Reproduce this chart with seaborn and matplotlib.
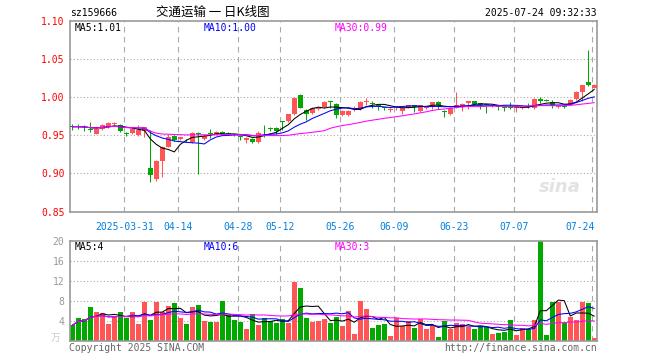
import numpy as np
import pandas as pd
import matplotlib
matplotlib.use("Agg")
import matplotlib.pyplot as plt
import seaborn as sns

# trading calendar (weekdays minus exchange holidays)
start_date = "2025-03-18"
end_date = "2025-07-24"
holidays = ["2025-04-04", "2025-05-01", "2025-05-02", "2025-05-05", "2025-06-02"]
tick_dates = ["2025-03-31", "2025-04-14", "2025-04-28", "2025-05-12", "2025-05-26",
              "2025-06-09", "2025-06-23", "2025-07-07", "2025-07-24"]
tick_labels = ["2025-03-31", "04-14", "04-28", "05-12", "05-26", "06-09", "06-23", "07-07", "07-24"]

open_p = [0.962, 0.962, 0.961, 0.958, 0.952, 0.958, 0.960, 0.965, 0.963, 0.953,
          0.953, 0.950, 0.956, 0.907, 0.892, 0.916, 0.935, 0.949, 0.945, 0.944,
          0.941, 0.953, 0.945, 0.952, 0.951, 0.954, 0.953, 0.951, 0.948, 0.943,
          0.945, 0.941, 0.961, 0.959, 0.959, 0.968, 0.968, 0.977, 1.003, 0.983,
          0.979, 0.984, 0.987, 0.994, 0.991, 0.976, 0.976, 0.984, 0.984, 0.993,
          0.992, 0.989, 0.986, 0.983, 0.985, 0.981, 0.986, 0.989, 0.981, 0.986,
          0.989, 0.993, 0.981, 0.977, 0.986, 0.988, 0.992, 0.994, 0.992, 0.990,
          0.988, 0.988, 0.987, 0.987, 0.986, 0.985, 0.988, 0.985, 0.997, 0.996,
          0.993, 0.987, 0.988, 0.990, 0.997, 1.007, 1.020, 1.012]
close_p = [0.961, 0.961, 0.960, 0.957, 0.958, 0.963, 0.966, 0.966, 0.955, 0.952,
           0.958, 0.957, 0.960, 0.898, 0.916, 0.934, 0.948, 0.944, 0.947, 0.943,
           0.953, 0.952, 0.949, 0.951, 0.954, 0.952, 0.951, 0.950, 0.947, 0.946,
           0.941, 0.953, 0.960, 0.958, 0.956, 0.967, 0.977, 0.999, 0.986, 0.977,
           0.985, 0.986, 0.993, 0.993, 0.976, 0.982, 0.982, 0.985, 0.993, 0.994,
           0.991, 0.988, 0.985, 0.984, 0.986, 0.986, 0.989, 0.987, 0.989, 0.987,
           0.993, 0.990, 0.980, 0.986, 0.989, 0.991, 0.994, 0.991, 0.989, 0.989,
           0.989, 0.987, 0.986, 0.986, 0.987, 0.986, 0.987, 0.997, 0.994, 0.995,
           0.988, 0.988, 0.987, 0.996, 1.007, 1.015, 1.015, 1.016]
high_p = [0.964, 0.964, 0.963, 0.967, 0.959, 0.964, 0.967, 0.967, 0.964, 0.954,
          0.959, 0.963, 0.961, 0.957, 0.918, 0.936, 0.951, 0.950, 0.948, 0.945,
          0.954, 0.954, 0.950, 0.958, 0.955, 0.956, 0.954, 0.952, 0.949, 0.948,
          0.946, 0.955, 0.963, 0.960, 0.960, 0.968, 0.978, 1.000, 1.004, 0.984,
          0.987, 0.987, 0.994, 0.994, 0.992, 0.983, 0.983, 0.988, 0.994, 0.998,
          0.994, 0.989, 0.987, 0.986, 0.987, 0.986, 0.990, 0.989, 0.990, 0.988,
          0.993, 0.994, 0.983, 0.987, 1.007, 0.992, 0.994, 0.994, 0.992, 0.990,
          0.990, 0.988, 0.987, 0.993, 0.988, 0.987, 0.992, 0.998, 1.000, 0.997,
          0.996, 0.989, 0.988, 0.997, 1.008, 1.015, 1.062, 1.017]
low_p = [0.957, 0.958, 0.955, 0.954, 0.951, 0.957, 0.959, 0.963, 0.954, 0.949,
         0.952, 0.949, 0.948, 0.888, 0.890, 0.895, 0.934, 0.942, 0.944, 0.941,
         0.940, 0.899, 0.944, 0.946, 0.950, 0.950, 0.950, 0.949, 0.944, 0.940,
         0.940, 0.940, 0.948, 0.956, 0.951, 0.957, 0.967, 0.976, 0.985, 0.970,
         0.978, 0.983, 0.986, 0.986, 0.973, 0.975, 0.975, 0.981, 0.983, 0.990,
         0.986, 0.983, 0.983, 0.980, 0.983, 0.977, 0.985, 0.980, 0.980, 0.984,
         0.984, 0.984, 0.974, 0.976, 0.985, 0.981, 0.984, 0.990, 0.984, 0.979,
         0.987, 0.983, 0.982, 0.984, 0.980, 0.984, 0.985, 0.984, 0.992, 0.994,
         0.986, 0.986, 0.985, 0.989, 0.996, 0.994, 1.014, 1.011]
# volume in 万手
volume = [3.1, 4.6, 4.3, 6.7, 5.8, 5.6, 3.3, 4.9, 5.7, 4.5,
          5.7, 3.3, 7.7, 4.1, 7.7, 5.8, 6.9, 7.5, 4.5, 3.3,
          6.7, 7.1, 4.0, 3.7, 3.7, 8.0, 5.1, 4.1, 3.8, 2.3,
          5.3, 3.1, 4.5, 4.0, 3.5, 4.3, 3.6, 11.8, 10.5, 4.5,
          3.8, 4.0, 4.3, 3.6, 4.8, 2.9, 5.9, 1.3, 8.0, 6.3,
          2.6, 3.1, 3.3, 0.9, 4.5, 2.9, 3.9, 2.6, 4.3, 2.3,
          3.2, 0.8, 4.0, 2.4, 3.6, 3.3, 2.8, 2.3, 2.9, 2.8,
          1.3, 1.6, 1.8, 4.1, 1.1, 2.5, 2.3, 4.1, 20.0, 1.1,
          7.7, 7.7, 3.5, 4.7, 4.1, 7.7, 7.5, 0.5]

RED = "#ff5555"
GREEN = "#00a800"
GRID = "#aaaaaa"
MONO = "DejaVu Sans Mono"

sns.set_style("white")
plt.rcParams['font.family'] = ['Noto Sans CJK SC', 'DejaVu Sans']

dates = pd.bdate_range(start_date, end_date)
dates = dates[~dates.isin(pd.to_datetime(holidays))]
df = pd.DataFrame({'date': dates, 'open': open_p, 'high': high_p, 'low': low_p,
                   'close': close_p, 'vol': volume})
df['i'] = np.arange(len(df))
df['up'] = df['close'] >= df['open']
df['color'] = np.where(df['up'], RED, GREEN)
for n in (5, 10, 30):
    df[f'ma{n}'] = df['close'].rolling(n, min_periods=1).mean()
    df[f'vma{n}'] = df['vol'].rolling(n, min_periods=1).mean()

tick_pos = [int(df.index[df['date'] == pd.Timestamp(d)][0]) - 0.33 for d in tick_dates]

W, H = 660, 360
fig = plt.figure(figsize=(6.6, 3.6), dpi=100)
L, R = 70, 597
ax = fig.add_axes([L / W, 1 - 211.5 / H, (R - L) / W, 191 / H])
axv = fig.add_axes([L / W, 1 - 340.7 / H, (R - L) / W, 100 / H])

xlim = ((L - 72.3) / 6, (R - 72.3) / 6)
MA_LW = 0.75

def frame(a):
    a.set_xlim(*xlim)
    for s in a.spines.values():
        s.set_color("#999999")
        s.set_linewidth(1.2)
    for x in tick_pos:
        a.axvline(x, color=GRID, lw=0.8, ls=(0, (5, 4)), zorder=0)
    a.set_xticks([])
    a.tick_params(length=0)

# price panel
frame(ax)
ax.set_ylim(0.85, 1.10)
for y in [0.90, 0.95, 1.00, 1.05]:
    ax.axhline(y, color=GRID, lw=0.8, ls=(0, (1, 2)), zorder=0)
ax.vlines(df['i'], df['low'], df['high'], colors=df['color'], lw=0.75, zorder=2)
body = (df['close'] - df['open']).abs().clip(lower=0.0012)
ax.bar(df['i'], body, bottom=df[['open', 'close']].min(axis=1), width=0.8,
       color=df['color'], linewidth=0, zorder=3)
sns.lineplot(data=df, x='i', y='ma5', color='black', lw=MA_LW, ax=ax, zorder=4)
sns.lineplot(data=df, x='i', y='ma10', color='#0000ff', lw=MA_LW, ax=ax, zorder=4)
sns.lineplot(data=df, x='i', y='ma30', color='#ff00ff', lw=MA_LW, ax=ax, zorder=4)
ax.set_xlabel('')
ax.set_ylabel('')
ax.set_yticks([0.85, 0.90, 0.95, 1.00, 1.05, 1.10])
ax.set_yticklabels([f"{v:.2f}" for v in [0.85, 0.90, 0.95, 1.00, 1.05, 1.10]],
                   color='red', family=MONO, fontsize=7)
ax.tick_params(axis='y', pad=4)
ax.text(0.97, 0.08, 'sina', transform=ax.transAxes, ha='right', va='bottom',
        fontsize=13, style='italic', weight='bold', color='#e3e3e3', family='DejaVu Sans')

# volume panel
frame(axv)
axv.set_ylim(0, 20)
for y in [4, 8, 12, 16]:
    axv.axhline(y, color=GRID, lw=0.8, ls=(0, (1, 2)), zorder=0)
axv.bar(df['i'], df['vol'], width=0.8, color=df['color'], linewidth=0, zorder=2)
sns.lineplot(data=df, x='i', y='vma5', color='black', lw=MA_LW, ax=axv, zorder=4)
sns.lineplot(data=df, x='i', y='vma10', color='#0000ff', lw=MA_LW, ax=axv, zorder=4)
sns.lineplot(data=df, x='i', y='vma30', color='#ff00ff', lw=MA_LW, ax=axv, zorder=4)
axv.set_xlabel('')
axv.set_ylabel('')
axv.set_yticks([4, 8, 12, 16, 20])
axv.set_yticklabels(['4', '8', '12', '16', '20'], color='#999999', family=MONO, fontsize=7)
axv.tick_params(axis='y', pad=4)

# date labels between panels
for x, lab in zip(tick_pos, tick_labels):
    xx = min(x, xlim[1] - 0.2)
    ha = 'right' if lab == tick_labels[-1] else 'center'
    ax.text(xx + (0.35 if ha == 'right' else 0), -0.08, lab, transform=ax.get_xaxis_transform(),
            ha=ha, va='center', color='#0080e0', family=MONO, fontsize=7)

def ftext(x, y, s, **kw):
    fig.text(x / W, 1 - y / H, s, va='center', **kw)

ftext(70, 13, 'sz159666', color='black', family=MONO, fontsize=7)
ftext(213, 12, '交通运输 一 日K线图', ha='center', color='black', fontsize=9)
ftext(597, 13, '2025-07-24 09:32:33', ha='right', color='black', family=MONO, fontsize=7)

last = df.iloc[-1]
ftext(75, 28, f"MA5:{last['ma5']:.2f}", color='black', family=MONO, fontsize=7)
ftext(204, 28, f"MA10:{last['ma10']:.2f}", color='#0000ff', family=MONO, fontsize=7)
ftext(335, 28, f"MA30:{last['ma30']:.2f}", color='#ff00ff', family=MONO, fontsize=7)
ftext(75, 247, f"MA5:{int(last['vma5'])}", color='black', family=MONO, fontsize=7)
ftext(204, 247, f"MA10:{int(last['vma10'])}", color='#0000ff', family=MONO, fontsize=7)
ftext(335, 247, f"MA30:{int(last['vma30'])}", color='#ff00ff', family=MONO, fontsize=7)

ftext(56, 338, '万', ha='center', color='#cccccc', fontsize=7)
ftext(69, 348, 'Copyright 2025 SINA.COM', color='#666666', family=MONO, fontsize=7)
ftext(597, 348, 'http://finance.sina.com.cn', ha='right', color='#666666', family=MONO, fontsize=7)

fig.savefig('out.png', dpi=100)
